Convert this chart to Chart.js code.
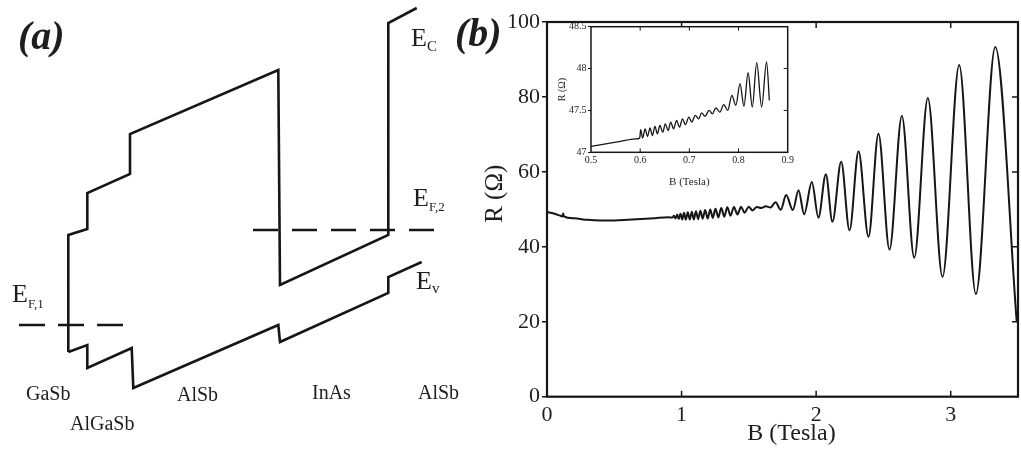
<!DOCTYPE html>
<html><head><meta charset="utf-8">
<script src="https://cdn.jsdelivr.net/npm/chart.js@4.4.1/dist/chart.umd.min.js"></script>
<style>
body{margin:0;background:#fff;}
#wrap{position:relative;width:1021px;height:461px;overflow:hidden;background:#fff;font-family:"Liberation Serif","Times New Roman",serif;color:#1e1e1e;}
canvas{position:absolute;display:block;}
.t{position:absolute;line-height:1;white-space:nowrap;}
.s{position:relative;}
.pl{font-weight:bold;font-style:italic;font-size:40px;}
.ly{font-size:20px;}
.e{font-size:26px;}
</style></head>
<body>
<div id="wrap">
  <canvas id="ca" width="460" height="461" style="left:0;top:0"></canvas>
  <canvas id="cb" width="561" height="461" style="left:460px;top:0"></canvas>
  <canvas id="ci" width="255" height="180" style="left:545px;top:14px"></canvas>

  <div class="t pl" style="left:18px;top:16px">(a)</div>
  <div class="t pl" style="left:455px;top:13px">(b)</div>

  <div class="t e" style="left:411px;top:25px">E<span class="s" style="font-size:15px;top:5px">C</span></div>
  <div class="t e" style="left:413px;top:185px">E<span class="s" style="font-size:13px;top:5px">F,2</span></div>
  <div class="t e" style="left:416px;top:268px">E<span class="s" style="font-size:15px;top:4px">v</span></div>
  <div class="t e" style="left:12px;top:281px">E<span class="s" style="font-size:13px;top:6px">F,1</span></div>

  <div class="t ly" style="left:26px;top:383px">GaSb</div>
  <div class="t ly" style="left:70px;top:413px">AlGaSb</div>
  <div class="t ly" style="left:177px;top:384px">AlSb</div>
  <div class="t ly" style="left:312px;top:382px">InAs</div>
  <div class="t ly" style="left:418px;top:382px">AlSb</div>
</div>
<script>
// ---------- Panel (a): band-edge profile (position, energy) ----------
const cbPos = [68.3, 68.3, 87.3, 87.3, 130, 130, 278.3, 280, 388.3, 388.3, 416.7];
const cbE   = [0.48, 1.65, 1.71, 2.07, 2.26, 2.66, 3.30, 1.15, 1.65, 3.77, 3.92];
const vbPos = [68.3, 87.3, 87.3, 131.7, 133.3, 278.3, 280, 388.3, 388.3, 421.7];
const vbE   = [0.48, 0.55, 0.32, 0.52, 0.12, 0.75, 0.58, 1.07, 1.23, 1.38];
const ef1Pos = [19, 124];
const ef1E   = [0.75, 0.75];
const ef2Pos = [253, 435];
const ef2E   = [1.70, 1.70];

// ---------- Panel (b): magnetoresistance R(B) ----------
const mainB = [0, 0.05, 0.10, 0.115, 0.12, 0.125, 0.20, 0.30, 0.40, 0.50, 0.60, 0.70, 0.80, 0.90,
  0.931, 0.943, 0.955, 0.967, 0.979, 0.992, 1.005, 1.018, 1.032, 1.046,
  1.061, 1.076, 1.091, 1.107, 1.123, 1.140, 1.157, 1.175, 1.194, 1.213,
  1.232, 1.252, 1.273, 1.295, 1.317, 1.340, 1.364, 1.389, 1.415, 1.442,
  1.469, 1.498, 1.528, 1.559, 1.592, 1.626, 1.661, 1.698, 1.737,
  1.777, 1.827, 1.869, 1.911, 1.968, 2.017, 2.072, 2.121, 2.186, 2.248,
  2.315, 2.389, 2.463, 2.545, 2.637, 2.729, 2.830, 2.939, 3.063, 3.187,
  3.331, 3.490];
const mainR = [49.3, 48.9, 48.3, 48.1, 48.9, 48.1, 47.6, 47.2, 47.05, 47.05, 47.2, 47.4, 47.65, 47.9,
  47.80, 48.30, 47.57, 48.60, 47.43, 48.85, 47.28, 49.06, 47.25, 49.24,
  47.28, 49.37, 47.31, 49.52, 47.38, 49.64, 47.50, 49.81, 47.57, 49.95,
  47.73, 50.16, 47.85, 50.35, 48.05, 50.55, 48.30, 50.65, 48.65, 50.68,
  49.10, 50.70, 49.70, 50.65, 50.35, 50.80, 50.50, 51.90, 49.90,
  53.8, 49.8, 55.1, 48.7, 57.3, 47.8, 59.4, 46.7, 62.7, 44.4,
  65.5, 42.7, 70.2, 39.3, 74.9, 37.1, 79.7, 32.0, 88.5, 27.4,
  93.3, 20.2];
const mainXTicks = [0, 1, 2, 3];
const mainYTicks = [0, 20, 40, 60, 80, 100];

// ---------- Inset: low-field detail ----------
const insetB = [0.500, 0.530, 0.560, 0.590, 0.599, 0.601, 0.605, 0.610, 0.615, 0.620,
  0.625, 0.630, 0.635, 0.640, 0.646, 0.651, 0.657, 0.662, 0.668, 0.674,
  0.680, 0.686, 0.692, 0.699, 0.705, 0.712, 0.719, 0.725, 0.732, 0.740,
  0.747, 0.754, 0.762, 0.770, 0.778, 0.7865, 0.7945, 0.803, 0.811, 0.8195,
  0.828, 0.837, 0.847, 0.857, 0.8627];
const insetR = [47.07, 47.10, 47.13, 47.16, 47.17, 47.27, 47.17, 47.28, 47.19, 47.29,
  47.20, 47.31, 47.22, 47.32, 47.24, 47.34, 47.26, 47.36, 47.28, 47.38,
  47.30, 47.40, 47.33, 47.42, 47.36, 47.44, 47.40, 47.47, 47.43, 47.50,
  47.46, 47.53, 47.48, 47.57, 47.50, 47.68, 47.56, 47.82, 47.55, 47.95,
  47.54, 48.07, 47.54, 48.08, 47.62];
const insetXTicks = [0.5, 0.6, 0.7, 0.8, 0.9];
const insetYTicks = [47, 47.5, 48, 48.5];

const INK = '#161616';
const TXT = '#1e1e1e';
const SERIF = "'Liberation Serif', 'Times New Roman', serif";
Chart.defaults.font.family = SERIF;
Chart.defaults.color = TXT;
Chart.defaults.animation = false;

const pts = (xs, ys) => xs.map((x, i) => ({x, y: ys[i]}));

function framePlugin(id, o) {
  return {
    id,
    beforeDraw(chart) {
      if (!o.fill) return;
      const a = chart.chartArea, c = chart.ctx;
      c.save(); c.fillStyle = '#fff';
      c.fillRect(a.left, a.top, a.right - a.left, a.bottom - a.top);
      c.restore();
    },
    afterDatasetsDraw(chart) {
      const {ctx: c, chartArea: a, scales: {x, y}} = chart;
      c.save();
      c.strokeStyle = INK;
      c.lineWidth = o.tw;
      c.beginPath();
      x.ticks.forEach(t => {
        const px = x.getPixelForValue(t.value);
        if (px <= a.left + 1 || px >= a.right - 1) return;
        c.moveTo(px, a.bottom); c.lineTo(px, a.bottom - o.len);
        c.moveTo(px, a.top); c.lineTo(px, a.top + o.len);
      });
      y.ticks.forEach(t => {
        const py = y.getPixelForValue(t.value);
        if (py <= a.top + 1 || py >= a.bottom - 1) return;
        c.moveTo(a.right, py); c.lineTo(a.right - o.len, py);
      });
      c.stroke();
      c.lineWidth = o.w;
      c.strokeRect(a.left, a.top, a.right - a.left, a.bottom - a.top);
      c.restore();
    }
  };
}

// Panel (a)
new Chart(document.getElementById('ca'), {
  type: 'scatter',
  data: {
    datasets: [
      {data: pts(cbPos, cbE), showLine: true, borderColor: INK, borderWidth: 2.6, pointRadius: 0, tension: 0, borderJoinStyle: 'miter'},
      {data: pts(vbPos, vbE), showLine: true, borderColor: INK, borderWidth: 2.6, pointRadius: 0, tension: 0, borderJoinStyle: 'miter'},
      {data: pts(ef1Pos, ef1E), showLine: true, borderColor: INK, borderWidth: 2.6, pointRadius: 0, borderDash: [26, 13]},
      {data: pts(ef2Pos, ef2E), showLine: true, borderColor: INK, borderWidth: 2.6, pointRadius: 0, borderDash: [25, 14]}
    ]
  },
  options: {
    responsive: false,
    layout: {padding: 0},
    plugins: {legend: {display: false}, tooltip: {enabled: false}},
    scales: {
      x: {type: 'linear', display: false, min: 0, max: 460},
      y: {type: 'linear', display: false, min: -0.61, max: 4.0}
    }
  }
});

// Panel (b) main
new Chart(document.getElementById('cb'), {
  type: 'scatter',
  data: {
    datasets: [{
      data: pts(mainB, mainR), showLine: true, borderColor: INK, borderWidth: 2,
      pointRadius: 0, cubicInterpolationMode: 'monotone'
    }]
  },
  options: {
    responsive: false,
    layout: {padding: {left: 0, right: 3, top: 22, bottom: 0}},
    plugins: {legend: {display: false}, tooltip: {enabled: false}},
    scales: {
      x: {
        type: 'linear', min: 0, max: 3.5,
        afterFit(s) { s.height = 64.3; },
        afterBuildTicks(s) { s.ticks = mainXTicks.map(v => ({value: v})); },
        ticks: {font: {size: 22}, color: TXT, padding: 5, includeBounds: false},
        grid: {display: false, drawTicks: false},
        border: {display: false},
        title: {display: true, text: '\u00A0\u00A0\u00A0B (Tesla)', font: {size: 24}, color: TXT, padding: {top: 0, bottom: 13}}
      },
      y: {
        type: 'linear', min: 0, max: 100,
        afterFit(s) { s.width = 87; },
        afterBuildTicks(s) { s.ticks = mainYTicks.map(v => ({value: v})); },
        ticks: {font: {size: 22}, color: TXT, padding: 2},
        grid: {display: true, drawOnChartArea: false, drawTicks: true, tickLength: 5, color: INK, lineWidth: 1.5},
        border: {display: false},
        title: {display: true, text: '\u00A0\u00A0\u00A0\u00A0\u00A0R (\u03A9)', font: {size: 25}, color: TXT, padding: {top: 20, bottom: 0}}
      }
    }
  },
  plugins: [framePlugin('frameMain', {w: 2.2, tw: 1.5, len: 6})]
});

// Inset
new Chart(document.getElementById('ci'), {
  type: 'scatter',
  data: {
    datasets: [{
      data: pts(insetB, insetR), showLine: true, borderColor: INK, borderWidth: 1.3,
      pointRadius: 0, cubicInterpolationMode: 'monotone'
    }]
  },
  options: {
    responsive: false,
    layout: {padding: {left: 0, right: 12.3, top: 12.7, bottom: 0}},
    plugins: {legend: {display: false}, tooltip: {enabled: false}},
    scales: {
      x: {
        type: 'linear', min: 0.5, max: 0.9,
        afterFit(s) { s.height = 41.7; },
        afterBuildTicks(s) { s.ticks = insetXTicks.map(v => ({value: v})); },
        ticks: {font: {size: 10}, color: TXT, padding: 2, callback: v => v.toFixed(1)},
        grid: {display: false, drawTicks: false},
        border: {display: false},
        title: {display: true, text: 'B (Tesla)', font: {size: 11}, color: TXT, padding: {top: 0, bottom: 5}}
      },
      y: {
        type: 'linear', min: 47, max: 48.5,
        afterFit(s) { s.width = 46; },
        afterBuildTicks(s) { s.ticks = insetYTicks.map(v => ({value: v})); },
        ticks: {font: {size: 10}, color: TXT, padding: 1.5, callback: v => String(v)},
        grid: {display: true, drawOnChartArea: false, drawTicks: true, tickLength: 3, color: INK, lineWidth: 1},
        border: {display: false},
        title: {display: true, text: 'R (\u03A9)', font: {size: 10}, color: TXT, padding: {top: 11, bottom: 0}}
      }
    }
  },
  plugins: [framePlugin('frameInset', {w: 1.5, tw: 1, len: 4, fill: true})]
});
</script>
</body></html>
